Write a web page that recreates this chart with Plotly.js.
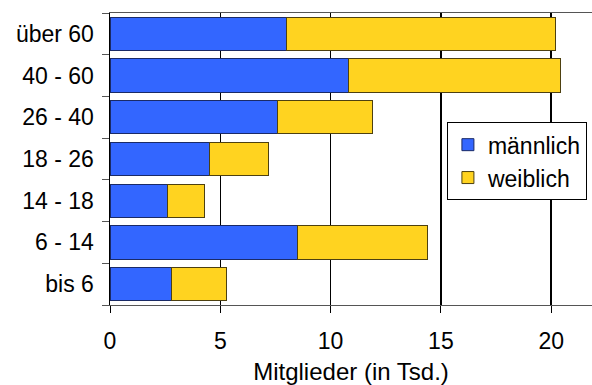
<!DOCTYPE html>
<html><head><meta charset="utf-8">
<script src="https://cdn.plot.ly/plotly-3.0.1.min.js"></script>
<style>body{margin:0;padding:0;background:#fff}#c{width:592px;height:385px}</style>
</head><body><div id="c"></div>
<script>
const categories = ["bis 6", "6 - 14", "14 - 18", "18 - 26", "26 - 40", "40 - 60", "über 60"];
const maennlich = [2.8, 8.5, 2.6, 4.5, 7.6, 10.8, 8.0];
const weiblich = [2.5, 5.9, 1.7, 2.7, 4.3, 9.6, 12.2];
const xTicks = [0, 5, 10, 15, 20];

const traces = [
  {type: "bar", orientation: "h", name: "männlich", y: categories, x: maennlich,
   marker: {color: "#3366ff", line: {color: "#1a2a66", width: 1}}},
  {type: "bar", orientation: "h", name: "weiblich", y: categories, x: weiblich,
   marker: {color: "#ffd320", line: {color: "#4d4010", width: 1}}}
];

const layout = {
  width: 592, height: 385,
  margin: {l: 110, r: 0, t: 13, b: 80},
  barmode: "stack", bargap: 0.2,
  paper_bgcolor: "#fff", plot_bgcolor: "#fff",
  font: {family: "Liberation Sans, Arial, sans-serif", size: 23, color: "#000"},
  showlegend: true,
  legend: {x: 0.699, y: 0.626, xanchor: "left", yanchor: "top", bgcolor: "#fff",
    bordercolor: "#000", borderwidth: 1, font: {size: 23}, traceorder: "normal",
    itemwidth: 30},
  xaxis: {range: [0, 21.85], tickvals: xTicks, ticktext: xTicks.map(String),
    showgrid: true, gridcolor: "#000", gridwidth: 1.5, zeroline: false,
    showline: true, linecolor: "#555", linewidth: 1, mirror: true,
    ticks: "outside", ticklen: 7, tickcolor: "#000", ticklabelstandoff: 8,
    title: {text: "Mitglieder (in Tsd.)", font: {size: 24}, standoff: 12},
    fixedrange: true},
  yaxis: {type: "category", categoryorder: "array", categoryarray: categories,
    showgrid: false, zeroline: false, showline: true, linecolor: "#000", linewidth: 1.5,
    ticks: "outside", tickson: "boundaries", ticklen: 7, tickcolor: "#555",
    ticklabelstandoff: 10, fixedrange: true}
};

Plotly.newPlot("c", traces, layout, {displayModeBar: false, staticPlot: true});
</script></body></html>
